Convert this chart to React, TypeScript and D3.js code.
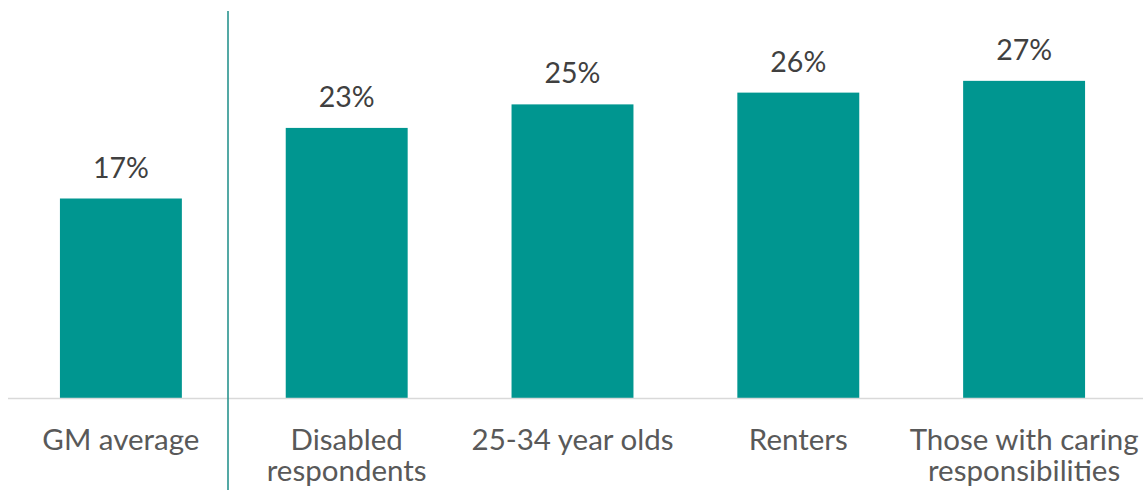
import { useEffect, useRef } from 'react';
import * as d3 from 'd3';

const categories = ['GM average', 'Disabled respondents', '25-34 year olds', 'Renters', 'Those with caring responsibilities'];
const labelLines = [['GM average'], ['Disabled', 'respondents'], ['25-34 year olds'], ['Renters'], ['Those with caring', 'responsibilities']];
const values = [17, 23, 25, 26, 27];

const W = 1143;
const H = 494;

export default function App() {
  const svgRef = useRef<SVGSVGElement>(null);

  useEffect(() => {
    if (!svgRef.current) return;
    const svg = d3.select(svgRef.current);
    svg.selectAll('*').remove();

    const baseY = 398.5;
    const x = d3.scaleBand<string>()
      .domain(categories)
      .range([8, 1137])
      .paddingInner(0.46)
      .paddingOuter(0.23);

    // 17% -> 200px tall
    const y = d3.scaleLinear().domain([0, 34]).range([baseY, baseY - 400]);

    svg.selectAll('rect.bar')
      .data(values)
      .join('rect')
      .attr('class', 'bar')
      .attr('x', (_, i) => x(categories[i]) || 0)
      .attr('y', d => y(d))
      .attr('width', x.bandwidth())
      .attr('height', d => baseY - y(d))
      .attr('fill', '#009690');

    // baseline
    svg.append('line')
      .attr('x1', 8).attr('x2', W)
      .attr('y1', baseY).attr('y2', baseY)
      .attr('stroke', '#d9d9d9')
      .attr('stroke-width', 1.5);

    // separator
    svg.append('line')
      .attr('x1', 228).attr('x2', 228)
      .attr('y1', 11).attr('y2', 490)
      .attr('stroke', '#1b8d87')
      .attr('stroke-width', 1.5);

    // value labels
    svg.selectAll('text.val')
      .data(values)
      .join('text')
      .attr('class', 'val')
      .attr('x', (_, i) => (x(categories[i]) || 0) + x.bandwidth() / 2)
      .attr('y', d => y(d) - 21)
      .attr('text-anchor', 'middle')
      .attr('fill', '#404040')
      .style('font-size', '28.5px')
      .text(d => `${d}%`);

    // category labels
    labelLines.forEach((lines, i) => {
      const cx = (x(categories[i]) || 0) + x.bandwidth() / 2;
      const t = svg.append('text')
        .attr('x', cx)
        .attr('y', 450)
        .attr('text-anchor', 'middle')
        .attr('fill', '#595959')
        .style('font-size', '29.5px');
      lines.forEach((l, j) => {
        t.append('tspan')
          .attr('x', cx)
          .attr('dy', j === 0 ? 0 : 31)
          .text(l);
      });
    });
  }, []);

  return (
    <svg
      ref={svgRef}
      width={W}
      height={H}
      style={{ position: 'absolute', left: 0, top: 0, fontFamily: 'Lato, sans-serif', background: '#fff' }}
    />
  );
}
